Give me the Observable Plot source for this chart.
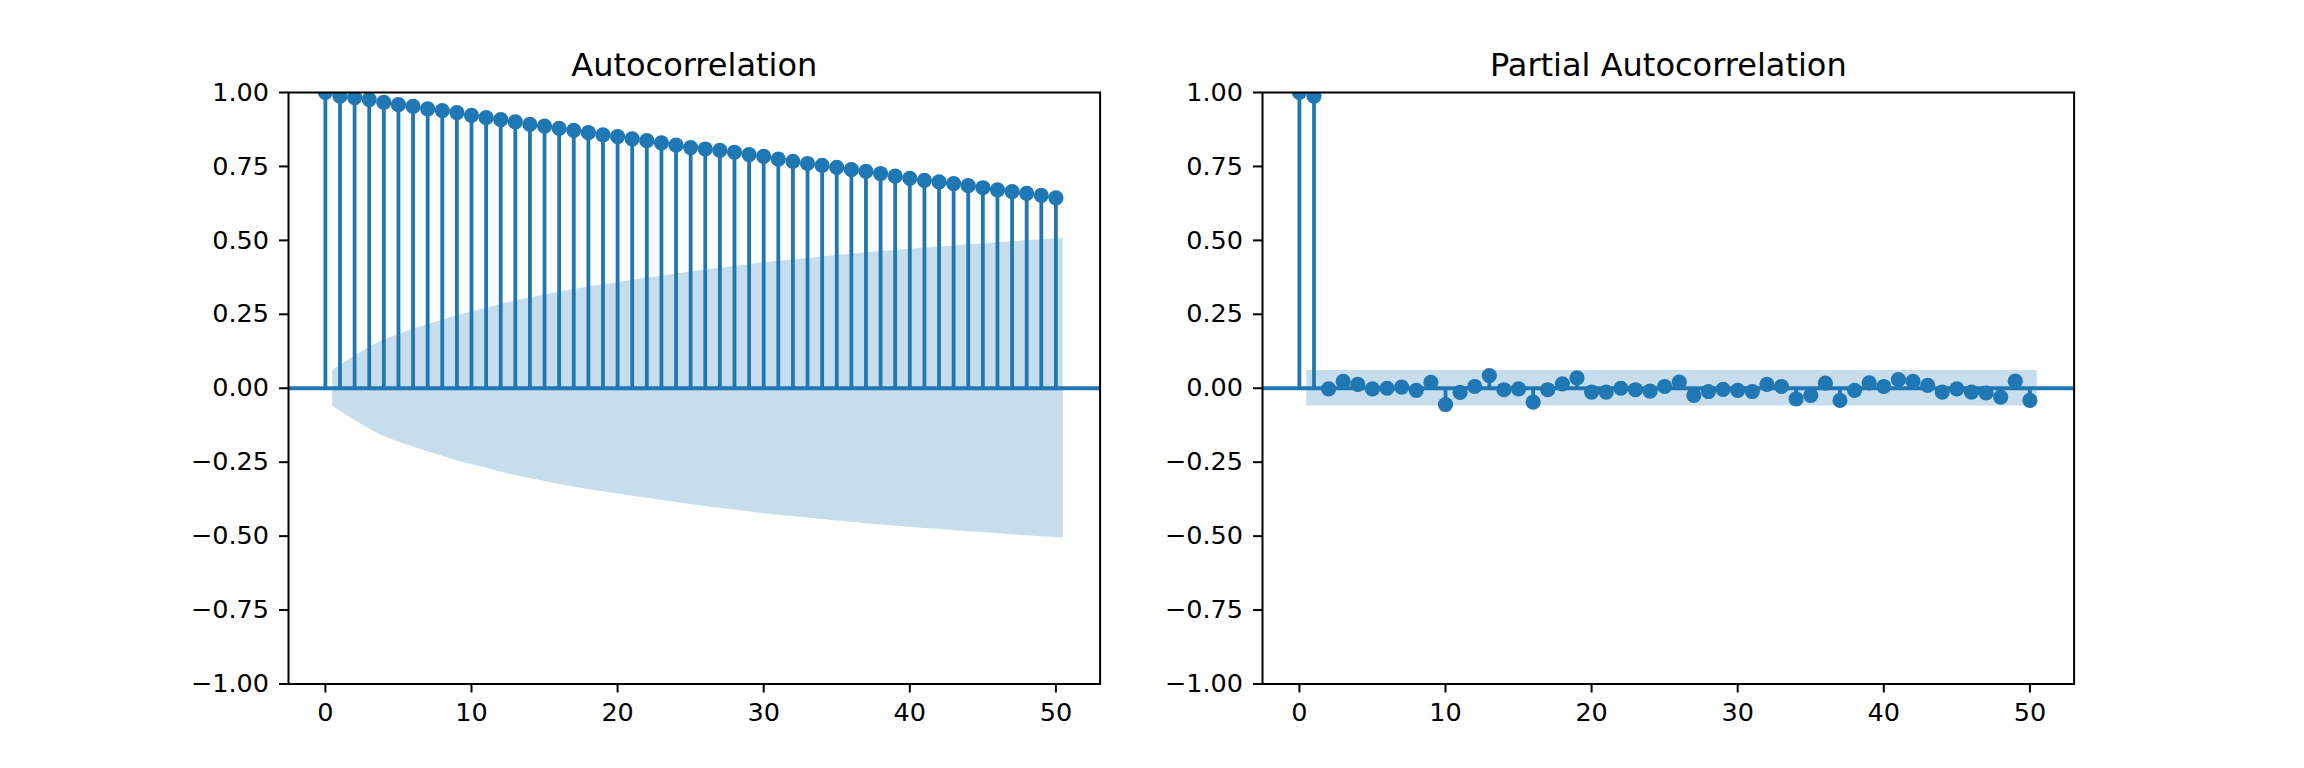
<!DOCTYPE html>
<html><head><meta charset="utf-8">
<script src="https://cdn.jsdelivr.net/npm/d3@7"></script>
<script src="https://cdn.jsdelivr.net/npm/@observablehq/plot@0.6"></script>
<style>
body{margin:0;background:#fff}
#wrap{position:relative;width:2304px;height:768px;display:flex;background:#fff}
#wrap svg{overflow:visible}
</style>
</head><body><div id="wrap"></div>
<script>
// lags 0..50
const lags = [0,1,2,3,4,5,6,7,8,9,10,11,12,13,14,15,16,17,18,19,20,21,22,23,24,25,26,27,28,29,30,31,32,33,34,35,36,37,38,39,40,41,42,43,44,45,46,47,48,49,50];
// confidence band lags 1..50
const bandLags = lags.slice(1);

const acfValues = [1.000, 0.988, 0.983, 0.976, 0.967, 0.959, 0.953, 0.945, 0.939, 0.932,
  0.923, 0.915, 0.908, 0.901, 0.892, 0.886, 0.879, 0.872, 0.864, 0.857,
  0.851, 0.843, 0.837, 0.830, 0.822, 0.814, 0.809, 0.804, 0.798, 0.790,
  0.784, 0.775, 0.767, 0.760, 0.754, 0.747, 0.739, 0.733, 0.726, 0.717,
  0.710, 0.703, 0.698, 0.692, 0.685, 0.678, 0.671, 0.665, 0.659, 0.652, 0.644];

const pacfValues = [1.000, 0.988, -0.002, 0.023, 0.013, -0.002, 0.000, 0.004, -0.007, 0.020,
  -0.055, -0.014, 0.006, 0.043, -0.005, -0.002, -0.047, -0.005, 0.015, 0.035,
  -0.013, -0.013, 0.000, -0.005, -0.010, 0.006, 0.021, -0.024, -0.011, -0.004,
  -0.007, -0.011, 0.013, 0.006, -0.036, -0.024, 0.017, -0.041, -0.007, 0.018,
  0.006, 0.029, 0.023, 0.010, -0.013, -0.002, -0.013, -0.016, -0.030, 0.024, -0.041];

const acfBand = [0.062, 0.108, 0.138, 0.163, 0.182, 0.199, 0.215, 0.230, 0.245, 0.258,
  0.270, 0.283, 0.295, 0.305, 0.315, 0.325, 0.334, 0.342, 0.350, 0.357,
  0.365, 0.372, 0.379, 0.386, 0.393, 0.400, 0.406, 0.412, 0.418, 0.424,
  0.429, 0.434, 0.439, 0.444, 0.449, 0.453, 0.458, 0.462, 0.466, 0.470,
  0.474, 0.477, 0.481, 0.485, 0.488, 0.492, 0.495, 0.499, 0.502, 0.506];

const pacfBand = [0.060, 0.060, 0.060, 0.060, 0.060, 0.060, 0.060, 0.060, 0.060, 0.060,
  0.060, 0.060, 0.060, 0.060, 0.060, 0.060, 0.060, 0.060, 0.060, 0.060,
  0.060, 0.060, 0.060, 0.060, 0.060, 0.060, 0.060, 0.060, 0.060, 0.060,
  0.060, 0.060, 0.060, 0.060, 0.060, 0.060, 0.060, 0.060, 0.060, 0.060,
  0.060, 0.060, 0.060, 0.060, 0.060, 0.060, 0.060, 0.060, 0.060, 0.060];

const xTicks = [0, 10, 20, 30, 40, 50];
const yTicks = [-1, -0.75, -0.5, -0.25, 0, 0.25, 0.5, 0.75, 1];
const titles = ["Autocorrelation", "Partial Autocorrelation"];

const BLUE = "#1f77b4";

function panel(title, values, band, width, marginLeft, marginRight) {
  const pts = lags.map((lag, i) => ({lag, v: values[i]}));
  const n = band.length;
  const bandRows = band.map((b, i) => ({
    x: i === 0 ? bandLags[i] - 0.5 : (i === n - 1 ? bandLags[i] + 0.5 : bandLags[i]),
    lo: -b, hi: b
  }));
  return Plot.plot({
    width, height: 768,
    marginLeft, marginRight, marginTop: 92, marginBottom: 84.5,
    style: {fontFamily: "DejaVu Sans", fontSize: "25.5px", background: "#fff", color: "#000", overflow: "visible"},
    x: {domain: [-2.525, 53.025]},
    y: {domain: [-1, 1]},
    marks: [
      Plot.areaY(bandRows, {x: "x", y1: "lo", y2: "hi", fill: BLUE, fillOpacity: 0.25}),
      Plot.ruleY([0], {stroke: BLUE, strokeWidth: 3.8}),
      Plot.ruleX(pts, {x: "lag", y1: 0, y2: "v", stroke: BLUE, strokeWidth: 3.8, clip: true}),
      Plot.dot(pts, {x: "lag", y: "v", r: 7.6, fill: BLUE, clip: true}),
      Plot.axisX({ticks: xTicks, tickSize: 9, tickPadding: 10, strokeWidth: 2, fontSize: 25.5, tickFormat: d => String(d), label: null}),
      Plot.axisY({ticks: yTicks, tickSize: 9, tickPadding: 10.5, strokeWidth: 2, fontSize: 25.5, tickFormat: d3.format(".2f"), label: null}),
      Plot.frame({stroke: "#000", strokeWidth: 2}),
      Plot.text([title], {text: d => d, frameAnchor: "top", dy: -17, lineAnchor: "bottom", fontSize: 32, fill: "#000"})
    ]
  });
}

const wrap = document.getElementById("wrap");
wrap.appendChild(panel(titles[0], acfValues, acfBand, 1140, 288, 40.4));
wrap.appendChild(panel(titles[1], pacfValues, pacfBand, 1164, 122, 230.4));
</script>
</body></html>
